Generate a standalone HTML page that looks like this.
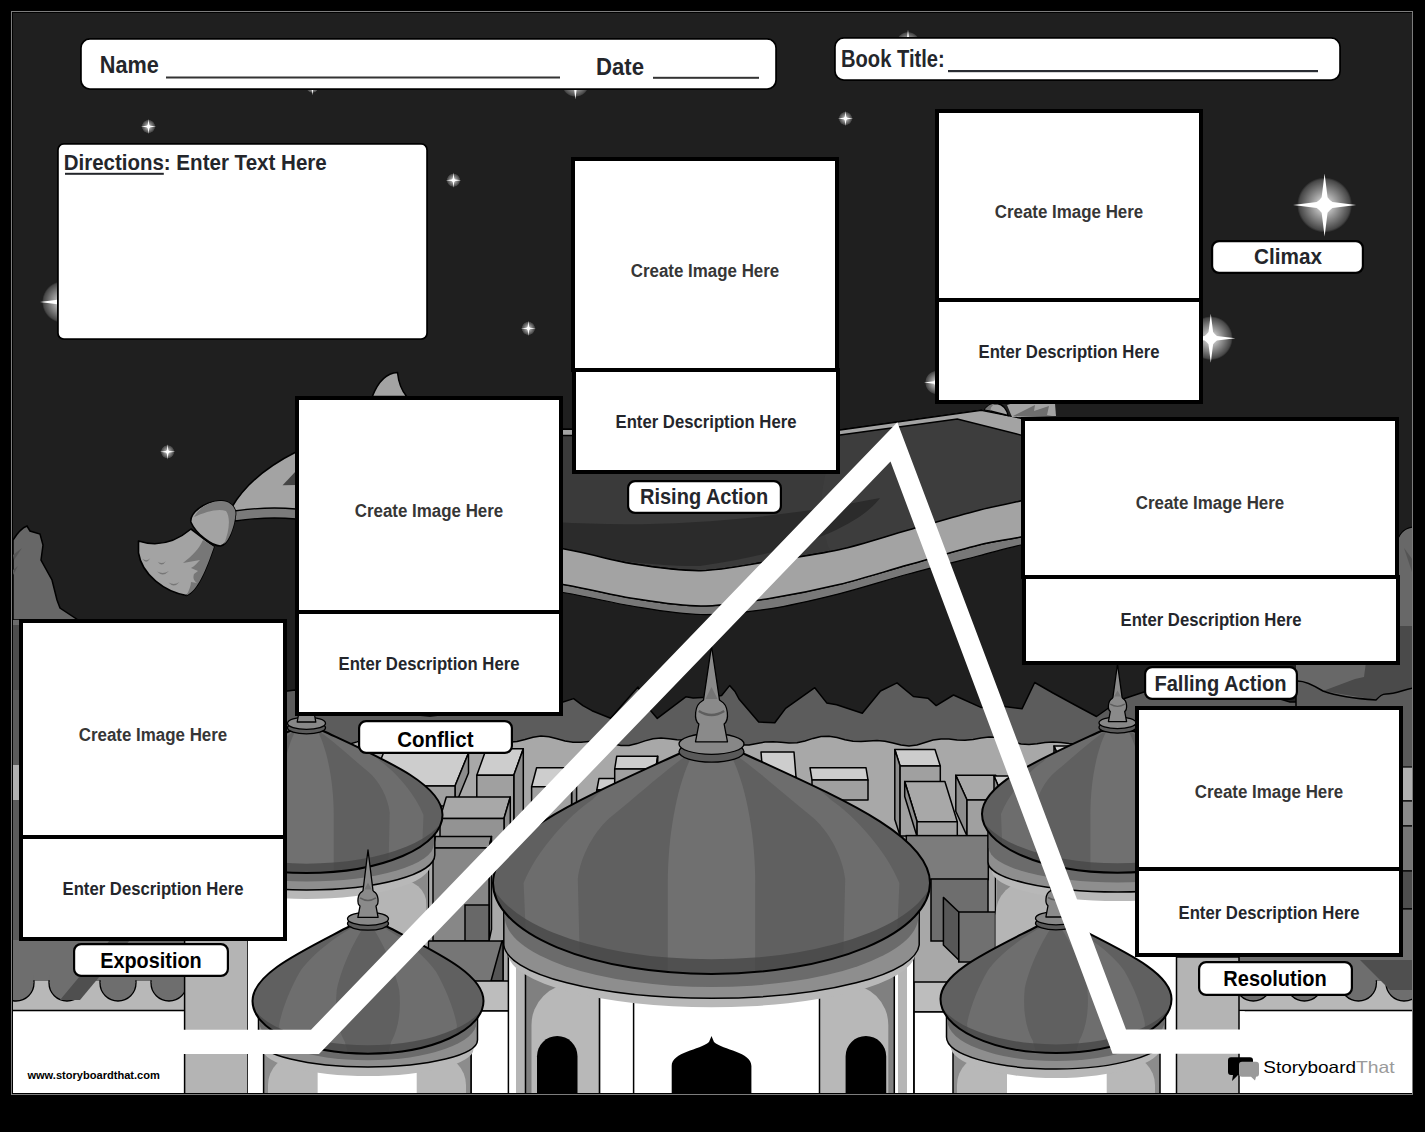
<!DOCTYPE html>
<html><head><meta charset="utf-8"><title>Plot Diagram</title>
<style>
html,body{margin:0;padding:0;background:#000;}
body{width:1425px;height:1132px;overflow:hidden;position:relative;font-family:"Liberation Sans", sans-serif;}
svg{position:absolute;left:0;top:0;display:block;}
</style></head><body>
<svg width="1425" height="1132" viewBox="0 0 1425 1132">
<defs>
<radialGradient id="glow"><stop offset="0" stop-color="#fff" stop-opacity="0.95"/><stop offset="0.45" stop-color="#fff" stop-opacity="0.55"/><stop offset="0.92" stop-color="#fff" stop-opacity="0.18"/><stop offset="1" stop-color="#fff" stop-opacity="0"/></radialGradient>
<clipPath id="frame"><rect x="13" y="13" width="1399" height="1080"/></clipPath>
</defs>
<rect x="0" y="0" width="1425" height="1132" fill="#000"/>
<rect x="11.5" y="11.5" width="1401" height="1083" fill="none" stroke="#7d7d7d" stroke-width="1"/>
<rect x="13" y="13" width="1399" height="1080" fill="#1f1f1f"/>
<g clip-path="url(#frame)">
<circle cx="148.5" cy="126.5" r="6.8" fill="url(#glow)" opacity="0.9"/><path d="M0,-32 L3,-8 Q5,-5 8,-3 L32,0 L8,3 Q5,5 3,8 L0,32 L-3,8 Q-5,5 -8,3 L-32,0 L-8,-3 Q-5,-5 -3,-8 Z" fill="#fff" transform="translate(148.5,126.5) scale(0.237)"/><circle cx="453.5" cy="180.2" r="6.8" fill="url(#glow)" opacity="0.9"/><path d="M0,-32 L3,-8 Q5,-5 8,-3 L32,0 L8,3 Q5,5 3,8 L0,32 L-3,8 Q-5,5 -8,3 L-32,0 L-8,-3 Q-5,-5 -3,-8 Z" fill="#fff" transform="translate(453.5,180.2) scale(0.237)"/><circle cx="528.4" cy="328.4" r="6.8" fill="url(#glow)" opacity="0.9"/><path d="M0,-32 L3,-8 Q5,-5 8,-3 L32,0 L8,3 Q5,5 3,8 L0,32 L-3,8 Q-5,5 -8,3 L-32,0 L-8,-3 Q-5,-5 -3,-8 Z" fill="#fff" transform="translate(528.4,328.4) scale(0.237)"/><circle cx="167.6" cy="451.8" r="6.8" fill="url(#glow)" opacity="0.9"/><path d="M0,-32 L3,-8 Q5,-5 8,-3 L32,0 L8,3 Q5,5 3,8 L0,32 L-3,8 Q-5,5 -8,3 L-32,0 L-8,-3 Q-5,-5 -3,-8 Z" fill="#fff" transform="translate(167.6,451.8) scale(0.237)"/><circle cx="845.5" cy="118.5" r="6.8" fill="url(#glow)" opacity="0.9"/><path d="M0,-32 L3,-8 Q5,-5 8,-3 L32,0 L8,3 Q5,5 3,8 L0,32 L-3,8 Q-5,5 -8,3 L-32,0 L-8,-3 Q-5,-5 -3,-8 Z" fill="#fff" transform="translate(845.5,118.5) scale(0.237)"/><circle cx="312.4" cy="86.5" r="6.5" fill="url(#glow)" opacity="1.0"/><path d="M0,-32 L3,-8 Q5,-5 8,-3 L32,0 L8,3 Q5,5 3,8 L0,32 L-3,8 Q-5,5 -8,3 L-32,0 L-8,-3 Q-5,-5 -3,-8 Z" fill="#fff" transform="translate(312.4,86.5) scale(0.272)"/><circle cx="1324.6" cy="205" r="27.6" fill="url(#glow)" opacity="1.0"/><path d="M0,-32 L3,-8 Q5,-5 8,-3 L32,0 L8,3 Q5,5 3,8 L0,32 L-3,8 Q-5,5 -8,3 L-32,0 L-8,-3 Q-5,-5 -3,-8 Z" fill="#fff" transform="translate(1324.6,205) scale(0.984)"/><circle cx="1210.8" cy="338.2" r="22" fill="url(#glow)" opacity="1.0"/><path d="M0,-32 L3,-8 Q5,-5 8,-3 L32,0 L8,3 Q5,5 3,8 L0,32 L-3,8 Q-5,5 -8,3 L-32,0 L-8,-3 Q-5,-5 -3,-8 Z" fill="#fff" transform="translate(1210.8,338.2) scale(0.766)"/><circle cx="63" cy="302" r="21" fill="url(#glow)" opacity="1.0"/><path d="M0,-32 L3,-8 Q5,-5 8,-3 L32,0 L8,3 Q5,5 3,8 L0,32 L-3,8 Q-5,5 -8,3 L-32,0 L-8,-3 Q-5,-5 -3,-8 Z" fill="#fff" transform="translate(63,302) scale(0.719)"/><circle cx="575.4" cy="83" r="14" fill="url(#glow)" opacity="1.0"/><path d="M0,-32 L3,-8 Q5,-5 8,-3 L32,0 L8,3 Q5,5 3,8 L0,32 L-3,8 Q-5,5 -8,3 L-32,0 L-8,-3 Q-5,-5 -3,-8 Z" fill="#fff" transform="translate(575.4,83) scale(0.512)"/><circle cx="908" cy="44" r="12.2" fill="url(#glow)" opacity="1.0"/><path d="M0,-32 L3,-8 Q5,-5 8,-3 L32,0 L8,3 Q5,5 3,8 L0,32 L-3,8 Q-5,5 -8,3 L-32,0 L-8,-3 Q-5,-5 -3,-8 Z" fill="#fff" transform="translate(908,44) scale(0.444)"/><circle cx="937" cy="382.5" r="12" fill="url(#glow)" opacity="1.0"/><path d="M0,-32 L3,-8 Q5,-5 8,-3 L32,0 L8,3 Q5,5 3,8 L0,32 L-3,8 Q-5,5 -8,3 L-32,0 L-8,-3 Q-5,-5 -3,-8 Z" fill="#fff" transform="translate(937,382.5) scale(0.406)"/><path d="M13,540 C18,532 22,528 27,526 L30,531 L40,534 L43,545 L41,560 L52,580 L57,600 L60,608 L78,620 L13,620 Z" fill="#676767" stroke="#000" stroke-width="1.5"/><path d="M13,555 L22,548 L14,560 Z" fill="#555"/><path d="M13,570 L18,566 L13,575 Z" fill="#555"/><path d="M380,470 L563,431 C650,431 760,432 840,430 L981.3,410.3 L1075,437 L1075,489 L1075.0,489.0 C1066.0,491.0 1036.9,497.4 1020.7,501.0 C1004.5,504.6 996.7,505.6 978.0,510.4 C959.3,515.2 931.6,523.4 908.4,530.0 C885.2,536.6 862.1,544.6 839.0,549.8 C815.9,555.0 792.5,557.9 769.5,561.4 C746.5,564.9 723.7,570.3 700.8,570.7 C677.9,571.1 654.9,567.4 631.9,563.8 C608.9,560.1 596.6,554.8 563.0,548.8 C529.4,542.8 473.8,535.3 430.0,528.0 C386.2,520.7 321.7,508.8 300.0,505.0 Z" fill="#3a3a3a" stroke="#000" stroke-width="1.5"/><path d="M839,434 L957,419 L1021,436 L1021,500 C950,520 880,545 830,551 C810,500 830,460 839,434 Z" fill="#3d3d3d"/><path d="M380,468 L563,429 C650,429 760,431 840,430 L981.3,410.3 L1021,418.3 L1030,421 L1030,440 L1021,435 L957.3,419 L840,435 C760,436 650,435 563,435.5 L380,474 Z" fill="#a3a3a3" stroke="#000" stroke-width="1.3"/><path d="M555,522 C650,528 760,522 880,498 C860,525 800,552 700,566 C640,566 600,558 555,548 Z" fill="#2b2b2b"/><path d="M300.0,540.0 C321.7,543.8 386.2,555.6 430.0,563.0 C473.8,570.4 529.4,578.6 563.0,584.5 C596.6,590.4 608.9,594.6 631.9,598.2 C654.9,601.8 677.9,606.0 700.8,606.0 C723.7,606.0 746.5,602.0 769.5,598.4 C792.5,594.8 815.9,590.1 839.0,584.5 C862.1,578.9 885.2,571.3 908.4,564.8 C931.6,558.2 959.3,549.8 978.0,545.2 C996.7,540.6 1004.5,540.4 1020.7,537.0 C1036.9,533.6 1066.0,527.0 1075.0,525.0 L1075.0,533.0 C1066.0,535.0 1036.9,541.2 1020.7,545.0 C1004.5,548.8 996.7,551.2 978.0,556.0 C959.3,560.8 931.6,567.7 908.4,574.0 C885.2,580.3 862.1,588.0 839.0,593.8 C815.9,599.6 792.5,605.3 769.5,608.8 C746.5,612.2 723.7,615.0 700.8,614.5 C677.9,614.0 654.9,609.7 631.9,606.0 C608.9,602.3 596.6,598.3 563.0,592.5 C529.4,586.7 473.8,578.4 430.0,571.0 C386.2,563.6 321.7,551.8 300.0,548.0 Z" fill="#787878" stroke="#000" stroke-width="1.2"/><path d="M300.0,505.0 C321.7,508.8 386.2,520.7 430.0,528.0 C473.8,535.3 529.4,542.8 563.0,548.8 C596.6,554.8 608.9,560.1 631.9,563.8 C654.9,567.4 677.9,571.1 700.8,570.7 C723.7,570.3 746.5,564.9 769.5,561.4 C792.5,557.9 815.9,555.0 839.0,549.8 C862.1,544.6 885.2,536.6 908.4,530.0 C931.6,523.4 959.3,515.2 978.0,510.4 C996.7,505.6 1004.5,504.6 1020.7,501.0 C1036.9,497.4 1066.0,491.0 1075.0,489.0 L1075.0,525.0 C1066.0,527.0 1036.9,533.6 1020.7,537.0 C1004.5,540.4 996.7,540.6 978.0,545.2 C959.3,549.8 931.6,558.2 908.4,564.8 C885.2,571.3 862.1,578.9 839.0,584.5 C815.9,590.1 792.5,594.8 769.5,598.4 C746.5,602.0 723.7,606.0 700.8,606.0 C677.9,606.0 654.9,601.8 631.9,598.2 C608.9,594.6 596.6,590.4 563.0,584.5 C529.4,578.6 473.8,570.4 430.0,563.0 C386.2,555.6 321.7,543.8 300.0,540.0 Z" fill="#a3a3a3" stroke="#000" stroke-width="1.5"/><path d="M984.7,409.5 C988,405 993,403.5 997,403.5 C1003,404 1007,410 1008,415.5 Z" fill="#a3a3a3" stroke="#000" stroke-width="1.3"/><path d="M984.7,409.5 C988,405 993,403.5 995,403.5 C992,406 990,408 991,410.5 Z" fill="#777"/><path d="M1007,405 L1012,403.5 L1055,403.5 L1056,416 L1012,417 Z" fill="#a3a3a3"/><path d="M1013,416 L1035,405 L1034,411 L1049,406 L1047,415 L1052,416 Z" fill="#6e6e6e"/><path d="M372.3,396.5 C378,382 386,373 397.5,372.5 C398.5,382 401,390 406.7,396.5 Z" fill="#a3a3a3" stroke="#000" stroke-width="1.5"/><path d="M232,507 C245,485 268,466 296,452 L296,510 C275,509 250,510 236,512 Z" fill="#a3a3a3" stroke="#000" stroke-width="1.5"/><path d="M282.6,485.2 L296,471 L296,485 Z" fill="#444"/><path d="M234,511 C255,508 275,507 296,509 L296,519 C275,517 255,518 235,521 Z" fill="#7a7a7a" stroke="#000" stroke-width="1.3"/><path d="M138.5,541 C160,548 178,540 191,529 L214,546.7 C206,570 198,590 186.5,595.5 C165,592 142,575 138.5,553 Z" fill="#a3a3a3" stroke="#000" stroke-width="1.6" stroke-linejoin="round"/><path d="M203,540 L214,546.7 C206,570 198,590 186.5,595.5 C189,590 191,586 191,582 L197,583 C193,580 193,577 194,574 L198,571 L191,568 C195,566 198,562 200,560 L183,563 C192,556 199,549 203,540 Z" fill="#777"/><path d="M142.3,558.8 Q146.3,564.8 150.3,558.3 Q146.3,561.8 142.3,558.8 Z" fill="#777"/><path d="M157.8,561.7 Q161.8,567.7 165.8,561.2 Q161.8,564.7 157.8,561.7 Z" fill="#777"/><path d="M157.0,571.6 Q163.0,577.6 169.0,571.1 Q163.0,574.6 157.0,571.6 Z" fill="#777"/><path d="M168.5,582.5 Q174.0,588.5 179.5,582.0 Q174.0,585.5 168.5,582.5 Z" fill="#777"/><path d="M190.8,522 C190,512 205,502 218,501 C230,500 237,508 235.3,516 C234,528 228,545 220.4,546 C212,546 196,534 190.8,522 Z" fill="#a3a3a3" stroke="#000" stroke-width="1.6"/><path d="M194,517 C200,506 212,501 220,501 C230,500 237,508 235.3,516 C234,528 229,540 224,544 C229,532 231,518 226,511 C218,508 205,512 194,517 Z" fill="#7a7a7a"/><path d="M13,760 L13,705 L60,700 L100,712 L150,695 L200,708 L250,700 L280,692 L295,690 L330,705 L380,712 L430,716 L470,712 L520,706 L560,703 L573.6,698.6 L582.9,705.6 L592,710.7 L610.6,718.3 L638,687 L650.5,710.4 L657.3,718.4 L685.8,696.8 L693.2,698 L712,697 L721.6,695.5 L729.6,685.6 L735.2,691.8 L739,699 L758.7,722.1 L774.8,722.7 L785.6,708.4 L814.8,687.7 L826.7,702.9 L836.7,704.7 L862.3,713.3 L880.5,691 L897,682.8 L913.4,696.5 L928,698.3 L936.2,705.6 L953.5,695 L980.9,707.4 L1000,706 L1022,708.8 L1034.7,682.5 L1053,693 L1075,705 L1096.5,716.5 L1120,700 L1150,690 L1200,697 L1250,690 L1290,702 L1412,702 L1412,760 Z" fill="#5c5c5c" stroke="#000" stroke-width="1.5" stroke-linejoin="round"/><path d="M13,1000 L13.0,743.9 L21.0,743.0 L29.0,742.1 L37.0,742.2 L45.0,743.2 L53.0,744.4 L61.0,744.4 L69.0,742.8 L77.0,740.1 L85.0,737.7 L93.0,736.8 L101.0,737.5 L109.0,739.0 L117.0,740.2 L125.0,740.2 L133.0,739.4 L141.0,738.9 L149.0,739.7 L157.0,741.8 L165.0,744.3 L173.0,745.8 L181.0,745.5 L189.0,743.8 L197.0,741.7 L205.0,740.5 L213.0,740.6 L221.0,741.3 L229.0,741.4 L237.0,740.3 L245.0,738.3 L253.0,736.5 L261.0,736.2 L269.0,737.7 L277.0,740.2 L285.0,742.4 L293.0,743.2 L301.0,742.7 L309.0,741.9 L317.0,741.8 L325.0,742.9 L333.0,744.4 L341.0,745.2 L349.0,744.3 L357.0,741.9 L365.0,739.2 L373.0,737.5 L381.0,737.5 L389.0,738.7 L397.0,739.8 L405.0,740.0 L413.0,739.1 L421.0,738.2 L429.0,738.4 L437.0,740.1 L445.0,742.8 L453.0,745.0 L461.0,745.6 L469.0,744.6 L477.0,742.7 L485.0,741.4 L493.0,741.2 L501.0,741.9 L509.0,742.3 L517.0,741.5 L525.0,739.5 L533.0,737.2 L541.0,736.0 L549.0,736.7 L557.0,738.7 L565.0,741.0 L573.0,742.3 L581.0,742.2 L589.0,741.5 L597.0,741.2 L605.0,742.2 L613.0,744.0 L621.0,745.4 L629.0,745.4 L637.0,743.6 L645.0,740.9 L653.0,738.7 L661.0,738.0 L669.0,738.7 L677.0,739.7 L685.0,740.0 L693.0,739.1 L701.0,737.9 L709.0,737.4 L717.0,738.6 L725.0,741.1 L733.0,743.7 L741.0,745.1 L749.0,744.9 L757.0,743.4 L765.0,742.0 L773.0,741.7 L781.0,742.3 L789.0,743.0 L797.0,742.7 L805.0,740.9 L813.0,738.4 L821.0,736.5 L829.0,736.2 L837.0,737.6 L845.0,739.7 L853.0,741.3 L861.0,741.5 L869.0,740.9 L877.0,740.5 L885.0,741.2 L893.0,743.1 L901.0,745.1 L909.0,745.9 L917.0,744.9 L925.0,742.5 L933.0,740.1 L941.0,738.9 L949.0,739.1 L957.0,739.9 L965.0,740.3 L973.0,739.5 L981.0,738.0 L989.0,736.9 L997.0,737.3 L1005.0,739.3 L1013.0,742.1 L1021.0,744.1 L1029.0,744.6 L1037.0,743.7 L1045.0,742.4 L1053.0,742.0 L1061.0,742.6 L1069.0,743.6 L1077.0,743.8 L1085.0,742.5 L1093.0,740.0 L1101.0,737.5 L1109.0,736.4 L1117.0,737.0 L1125.0,738.7 L1133.0,740.3 L1141.0,740.9 L1149.0,740.4 L1157.0,739.8 L1165.0,740.1 L1173.0,741.9 L1181.0,744.2 L1189.0,745.8 L1197.0,745.7 L1205.0,743.9 L1213.0,741.6 L1221.0,739.9 L1229.0,739.7 L1237.0,740.3 L1245.0,740.8 L1253.0,740.2 L1261.0,738.5 L1269.0,736.9 L1277.0,736.4 L1285.0,737.8 L1293.0,740.3 L1301.0,742.8 L1309.0,743.9 L1317.0,743.6 L1325.0,742.5 L1333.0,742.0 L1341.0,742.5 L1349.0,743.8 L1357.0,744.6 L1365.0,743.9 L1373.0,741.7 L1381.0,739.0 L1389.0,737.1 L1397.0,736.9 L1405.0,738.1 L1412,741 L1412,1000 Z" fill="#a8a8a8" stroke="#000" stroke-width="1.5"/><path d="M1396,545 C1398,535 1404,528 1413,527 L1413,700 L1396,700 Z" fill="#686868" stroke="#000" stroke-width="1.3"/><rect x="1396" y="626" width="17" height="70" fill="#4a4a4a"/><path d="M1404,548 L1413,560 L1413,575 Z" fill="#555"/><rect x="1296" y="662" width="117" height="44" fill="#686868"/><path d="M1323,691 L1355,679 L1364,677 L1366,662 L1413,662 L1413,690 L1384,694 L1376,700 Z" fill="#4a4a4a"/><path d="M1296,681 C1305,680 1315,686 1323,691 C1340,697 1360,699 1376,700 C1380,696 1382,694 1386,694 C1395,694 1403,690 1413,688 L1413,710 L1296,710 Z" fill="#5c5c5c" stroke="#000" stroke-width="1.5"/><polygon points="370.0,786.0 455.0,786.0 468.5,753.0 383.5,753.0" fill="#cdcdcd" stroke="#000" stroke-width="1.5" stroke-linejoin="round" /><polygon points="455.0,786.0 468.5,753.0 468.5,773.0 455.0,806.0" fill="#8c8c8c" stroke="#000" stroke-width="1.5" stroke-linejoin="round" /><polygon points="370.0,786.0 455.0,786.0 455.0,806.0 370.0,806.0" fill="#a0a0a0" stroke="#000" stroke-width="1.5" stroke-linejoin="round" /><polygon points="476.8,775.3 513.8,775.3 523.3,748.8 486.3,748.8" fill="#cdcdcd" stroke="#000" stroke-width="1.5" stroke-linejoin="round" /><polygon points="513.8,775.3 523.3,748.8 523.3,818.8 513.8,845.3" fill="#8c8c8c" stroke="#000" stroke-width="1.5" stroke-linejoin="round" /><polygon points="476.8,775.3 513.8,775.3 513.8,845.3 476.8,845.3" fill="#a0a0a0" stroke="#000" stroke-width="1.5" stroke-linejoin="round" /><polygon points="531.6,786.8 571.6,786.8 576.6,767.8 536.6,767.8" fill="#cdcdcd" stroke="#000" stroke-width="1.5" stroke-linejoin="round" /><polygon points="571.6,786.8 576.6,767.8 576.6,827.8 571.6,846.8" fill="#8c8c8c" stroke="#000" stroke-width="1.5" stroke-linejoin="round" /><polygon points="531.6,786.8 571.6,786.8 571.6,846.8 531.6,846.8" fill="#a0a0a0" stroke="#000" stroke-width="1.5" stroke-linejoin="round" /><polygon points="596.8,790.0 626.8,790.0 629.0,778.4 599.0,778.4" fill="#cdcdcd" stroke="#000" stroke-width="1.5" stroke-linejoin="round" /><polygon points="626.8,790.0 629.0,778.4 629.0,798.4 626.8,810.0" fill="#8c8c8c" stroke="#000" stroke-width="1.5" stroke-linejoin="round" /><polygon points="596.8,790.0 626.8,790.0 626.8,810.0 596.8,810.0" fill="#a0a0a0" stroke="#000" stroke-width="1.5" stroke-linejoin="round" /><polygon points="614.7,769.0 655.7,769.0 657.7,756.3 616.7,756.3" fill="#cdcdcd" stroke="#000" stroke-width="1.5" stroke-linejoin="round" /><polygon points="655.7,769.0 657.7,756.3 657.7,786.3 655.7,799.0" fill="#8c8c8c" stroke="#000" stroke-width="1.5" stroke-linejoin="round" /><polygon points="614.7,769.0 655.7,769.0 655.7,799.0 614.7,799.0" fill="#a0a0a0" stroke="#000" stroke-width="1.5" stroke-linejoin="round" /><polygon points="440.0,818.4 504.0,818.4 510.3,797.0 446.3,797.0" fill="#a8a8a8" stroke="#000" stroke-width="1.5" stroke-linejoin="round" /><polygon points="504.0,818.4 510.3,797.0 510.3,842.0 504.0,863.4" fill="#8c8c8c" stroke="#000" stroke-width="1.5" stroke-linejoin="round" /><polygon points="440.0,818.4 504.0,818.4 504.0,863.4 440.0,863.4" fill="#939393" stroke="#000" stroke-width="1.5" stroke-linejoin="round" /><polygon points="433.0,848.0 489.0,848.0 491.5,836.4 435.5,836.4" fill="#8c8c8c" stroke="#000" stroke-width="1.5" stroke-linejoin="round" /><polygon points="489.0,848.0 491.5,836.4 491.5,929.4 489.0,941.0" fill="#8c8c8c" stroke="#000" stroke-width="1.5" stroke-linejoin="round" /><polygon points="433.0,848.0 489.0,848.0 489.0,941.0 433.0,941.0" fill="#878787" stroke="#000" stroke-width="1.5" stroke-linejoin="round" /><rect x="465" y="905" width="24" height="36" fill="#686868" stroke="#000" stroke-width="1.5"/><rect x="428" y="941" width="75" height="45" fill="#767676" stroke="#000" stroke-width="1.5"/><polygon points="491.0,981.0 502.0,941.0 503.0,941.0 503.0,981.0" fill="#555" stroke="#000" stroke-width="1.5" stroke-linejoin="round" /><polygon points="763.0,777.0 796.0,777.0 794.0,752.0 761.0,752.0" fill="#cdcdcd" stroke="#000" stroke-width="1.5" stroke-linejoin="round" /><polygon points="763.0,777.0 796.0,777.0 796.0,797.0 763.0,797.0" fill="#a0a0a0" stroke="#000" stroke-width="1.5" stroke-linejoin="round" /><polygon points="812.0,780.0 868.0,780.0 866.0,767.7 810.0,767.7" fill="#cdcdcd" stroke="#000" stroke-width="1.5" stroke-linejoin="round" /><polygon points="812.0,780.0 868.0,780.0 868.0,800.0 812.0,800.0" fill="#a0a0a0" stroke="#000" stroke-width="1.5" stroke-linejoin="round" /><polygon points="900.1,766.0 940.3,766.0 935.0,749.6 894.8,749.6" fill="#cdcdcd" stroke="#000" stroke-width="1.5" stroke-linejoin="round" /><polygon points="900.1,766.0 894.8,749.6 894.8,819.6 900.1,836.0" fill="#8c8c8c" stroke="#000" stroke-width="1.5" stroke-linejoin="round" /><polygon points="900.1,766.0 940.3,766.0 940.3,836.0 900.1,836.0" fill="#a0a0a0" stroke="#000" stroke-width="1.5" stroke-linejoin="round" /><polygon points="967.0,800.0 1007.0,800.0 995.8,775.3 955.8,775.3" fill="#a8a8a8" stroke="#000" stroke-width="1.5" stroke-linejoin="round" /><polygon points="967.0,800.0 955.8,775.3 955.8,811.3 967.0,836.0" fill="#8c8c8c" stroke="#000" stroke-width="1.5" stroke-linejoin="round" /><polygon points="967.0,800.0 1007.0,800.0 1007.0,836.0 967.0,836.0" fill="#a0a0a0" stroke="#000" stroke-width="1.5" stroke-linejoin="round" /><polygon points="917.1,821.7 957.3,821.7 944.9,781.5 904.7,781.5" fill="#a8a8a8" stroke="#000" stroke-width="1.5" stroke-linejoin="round" /><polygon points="917.1,821.7 904.7,781.5 904.7,796.5 917.1,836.7" fill="#8c8c8c" stroke="#000" stroke-width="1.5" stroke-linejoin="round" /><polygon points="917.1,821.7 957.3,821.7 957.3,836.7 917.1,836.7" fill="#a0a0a0" stroke="#000" stroke-width="1.5" stroke-linejoin="round" /><polygon points="1000.0,790.0 1060.0,790.0 1054.0,776.0 994.0,776.0" fill="#cdcdcd" stroke="#000" stroke-width="1.5" stroke-linejoin="round" /><polygon points="1000.0,790.0 994.0,776.0 994.0,826.0 1000.0,840.0" fill="#8c8c8c" stroke="#000" stroke-width="1.5" stroke-linejoin="round" /><polygon points="1000.0,790.0 1060.0,790.0 1060.0,840.0 1000.0,840.0" fill="#a0a0a0" stroke="#000" stroke-width="1.5" stroke-linejoin="round" /><polygon points="1060.0,760.0 1110.0,760.0 1104.0,746.0 1054.0,746.0" fill="#cdcdcd" stroke="#000" stroke-width="1.5" stroke-linejoin="round" /><polygon points="1060.0,760.0 1054.0,746.0 1054.0,786.0 1060.0,800.0" fill="#8c8c8c" stroke="#000" stroke-width="1.5" stroke-linejoin="round" /><polygon points="1060.0,760.0 1110.0,760.0 1110.0,800.0 1060.0,800.0" fill="#a0a0a0" stroke="#000" stroke-width="1.5" stroke-linejoin="round" /><rect x="906.3" y="835.6" width="82" height="44" fill="#7c7c7c" stroke="#000" stroke-width="1.5"/><rect x="931" y="879" width="57" height="62" fill="#6e6e6e" stroke="#000" stroke-width="1.5"/><polygon points="943.4,897.4 958.8,912.0 958.8,960.0 943.4,945.0" fill="#575757" stroke="#000" stroke-width="1.5" stroke-linejoin="round" /><rect x="958.8" y="912" width="40" height="50" fill="#707070" stroke="#000" stroke-width="1.5"/><rect x="1390" y="700" width="23" height="67" fill="#5a5a5a"/><rect x="1390" y="767" width="23" height="34" fill="#b0b0b0" stroke="#000" stroke-width="1.2"/><rect x="1390" y="801" width="23" height="25" fill="#8a8a8a" stroke="#000" stroke-width="1.2"/><rect x="1390" y="826" width="23" height="45" fill="#767676" stroke="#000" stroke-width="1.2"/><rect x="1390" y="871" width="23" height="38" fill="#4e4e4e" stroke="#000" stroke-width="1.2"/><rect x="1390" y="909" width="23" height="50" fill="#6e6e6e" stroke="#000" stroke-width="1.2"/><rect x="13" y="620" width="8" height="320" fill="#5a5a5a"/><rect x="13" y="620" width="8" height="8" fill="#6a6a6a"/><rect x="13" y="625" width="8" height="65" fill="#4c4c4c"/><rect x="13" y="765" width="8" height="35" fill="#b0b0b0"/><rect x="183" y="850" width="245.4" height="245" fill="#fff" stroke="#000" stroke-width="1.5"/><rect x="396" y="851" width="31.6" height="60" fill="#8a8a8a"/><path d="M360,1095 L360,879 L398,879 A28.5,25 0 0 1 426.5,904 L426.5,1095 Z" fill="#b5b5b5"/><rect x="426.5" y="870" width="1.5" height="225" fill="#8a8a8a"/><path d="M183,855 L428.4,855 L428.4,900 L183,900 Z" fill="#b8b8b8" opacity="0"/><path d="M182.2,855.0 A124.3,35.0 0 0 0 430.8,855.0 L430.8,864.0 A124.3,35.0 0 0 1 182.2,864.0 Z" fill="#b8b8b8"/><path d="M178.2,830.0 L178.2,855.0 A128.3,35.0 0 0 0 434.8,855.0 L434.8,830.0 Z" fill="#8e8e8e" stroke="#000" stroke-width="1.5"/><path d="M179.0,830.0 L179.0,843.8 A127.5,37.8 0 0 0 434.0,843.8 L434.0,830.0 Z" fill="#6b6b6b"/><clipPath id="dc1"><path d="M289.8,731.0 C227.8,759.9 170.5,784.3 170.5,815.0 A136.0,58.0 0 0 0 442.5,815.0 C442.5,784.3 385.2,759.9 323.2,731.0 Z"/></clipPath><path d="M289.8,731.0 C227.8,759.9 170.5,784.3 170.5,815.0 A136.0,58.0 0 0 0 442.5,815.0 C442.5,784.3 385.2,759.9 323.2,731.0 Z" fill="#606060"/><g clip-path="url(#dc1)"><path d="M290.2,731.0 C258.9,741.1 238.5,754.5 232.7,761.2 C218.1,771.3 197.7,794.0 189.5,815.0 L192.3,883.0 L224.9,883.0 L223.3,812.5 C224.9,798.2 233.1,781.4 245.3,771.3 C261.6,757.9 279.3,741.1 294.3,731.0 Z" fill="#6d6d6d"/><path d="M322.8,731.0 C354.1,741.1 374.5,754.5 380.3,761.2 C394.9,771.3 415.3,794.0 423.5,815.0 L420.7,883.0 L388.1,883.0 L389.7,812.5 C388.1,798.2 379.9,781.4 367.7,771.3 C351.4,757.9 333.7,741.1 318.7,731.0 Z" fill="#6d6d6d"/><path d="M295.6,731.0 C286.1,747.8 279.3,781.4 279.3,815.0 L279.3,883.0 L333.7,883.0 L333.7,815.0 C333.7,781.4 326.9,747.8 317.4,731.0 Z" fill="#707070"/><path d="M165.5,805.7 A141.0,58.0 0 0 0 447.5,805.7 L447.5,893.0 L165.5,893.0 Z" fill="#454545" opacity="0.75"/></g><path d="M289.8,731.0 C227.8,759.9 170.5,784.3 170.5,815.0 A136.0,58.0 0 0 0 442.5,815.0 C442.5,784.3 385.2,759.9 323.2,731.0 Z" fill="none" stroke="#000" stroke-width="2"/><ellipse cx="306.5" cy="727.7" rx="19" ry="6.1" fill="#5a5a5a" stroke="#000" stroke-width="1.3"/><ellipse cx="306.5" cy="723.2" rx="19" ry="6.1" fill="#878787" stroke="#000" stroke-width="1.3"/><path d="M297.2,722.0 L299.1,711.5 C296.1,709.2 296.6,700.4 301.0,698.1 L301.8,697.1 L306.5,690.0 L311.2,697.1 L312.0,698.1 C316.4,700.4 316.9,709.2 313.9,711.5 L315.8,722.0 Z" fill="#8a8a8a" stroke="#000" stroke-width="1.3" stroke-linejoin="round"/><path d="M299.0,703.9 Q306.5,708.6 314.0,703.9" fill="none" stroke="#5e5e5e" stroke-width="1.5"/><path d="M303.0,696.1 L306.5,689.9 L310.0,696.1 Z" fill="#747474"/><rect x="995.5" y="850" width="250" height="245" fill="#fff" stroke="#000" stroke-width="1.5"/><rect x="996.3" y="850" width="73.7" height="245" fill="#8a8a8a"/><path d="M995.5,1095 L995.5,915 A35,35 0 0 1 1030.5,880 L1070,880 L1070,1095 Z" fill="#b5b5b5"/><path d="M992.0,862.0 A125.5,30.0 0 0 0 1243.0,862.0 L1243.0,871.0 A125.5,30.0 0 0 1 992.0,871.0 Z" fill="#b8b8b8"/><path d="M988.0,830.0 L988.0,862.0 A129.5,30.0 0 0 0 1247.0,862.0 L1247.0,830.0 Z" fill="#8e8e8e" stroke="#000" stroke-width="1.5"/><path d="M988.8,830.0 L988.8,847.6 A128.7,34.8 0 0 0 1246.2,847.6 L1246.2,830.0 Z" fill="#6b6b6b"/><clipPath id="dc4"><path d="M1101.2,731.0 C1039.0,759.6 982.0,783.6 982.0,814.0 A135.5,58.7 0 0 0 1253.0,814.0 C1253.0,783.6 1196.0,759.6 1133.8,731.0 Z"/></clipPath><path d="M1101.2,731.0 C1039.0,759.6 982.0,783.6 982.0,814.0 A135.5,58.7 0 0 0 1253.0,814.0 C1253.0,783.6 1196.0,759.6 1133.8,731.0 Z" fill="#606060"/><g clip-path="url(#dc4)"><path d="M1101.2,731.0 C1070.1,741.0 1049.8,754.2 1043.9,760.9 C1029.4,770.8 1009.1,793.2 1001.0,814.0 L1003.7,882.7 L1036.2,882.7 L1034.6,811.5 C1036.2,797.4 1044.3,780.8 1056.5,770.8 C1072.8,757.6 1090.4,741.0 1105.3,731.0 Z" fill="#6d6d6d"/><path d="M1133.8,731.0 C1164.9,741.0 1185.2,754.2 1191.1,760.9 C1205.6,770.8 1225.9,793.2 1234.0,814.0 L1231.3,882.7 L1198.8,882.7 L1200.4,811.5 C1198.8,797.4 1190.7,780.8 1178.5,770.8 C1162.2,757.6 1144.6,741.0 1129.7,731.0 Z" fill="#6d6d6d"/><path d="M1106.7,731.0 C1097.2,747.6 1090.4,780.8 1090.4,814.0 L1090.4,882.7 L1144.6,882.7 L1144.6,814.0 C1144.6,780.8 1137.8,747.6 1128.3,731.0 Z" fill="#707070"/><path d="M977.0,804.6 A140.5,58.7 0 0 0 1258.0,804.6 L1258.0,892.7 L977.0,892.7 Z" fill="#454545" opacity="0.75"/></g><path d="M1101.2,731.0 C1039.0,759.6 982.0,783.6 982.0,814.0 A135.5,58.7 0 0 0 1253.0,814.0 C1253.0,783.6 1196.0,759.6 1133.8,731.0 Z" fill="none" stroke="#000" stroke-width="2"/><ellipse cx="1117.5" cy="727.3" rx="18.5" ry="5.9" fill="#5a5a5a" stroke="#000" stroke-width="1.3"/><ellipse cx="1117.5" cy="722.8" rx="18.5" ry="5.9" fill="#878787" stroke="#000" stroke-width="1.3"/><path d="M1108.4,721.6 L1110.3,711.5 C1107.3,709.2 1107.8,700.7 1112.2,698.4 L1112.9,697.4 L1117.5,664.0 L1122.1,697.4 L1122.8,698.4 C1127.2,700.7 1127.7,709.2 1124.7,711.5 L1126.6,721.6 Z" fill="#8a8a8a" stroke="#000" stroke-width="1.3" stroke-linejoin="round"/><path d="M1110.2,704.1 Q1117.5,708.6 1124.8,704.1" fill="none" stroke="#5e5e5e" stroke-width="1.4"/><path d="M1114.1,696.4 L1117.5,690.4 L1120.9,696.4 Z" fill="#747474"/><rect x="471" y="981" width="40" height="30" fill="#bdbdbd" stroke="#000" stroke-width="1.5"/><rect x="471" y="1011" width="40" height="84" fill="#fff" stroke="#000" stroke-width="1.5"/><rect x="914" y="982" width="42" height="30" fill="#bdbdbd" stroke="#000" stroke-width="1.5"/><rect x="914" y="1012" width="42" height="83" fill="#fff" stroke="#000" stroke-width="1.5"/><rect x="508.4" y="900" width="405.4" height="195" fill="#fff" stroke="#000" stroke-width="1.5"/><rect x="516" y="900" width="9.5" height="195" fill="#b5b5b5"/><rect x="525.5" y="935" width="74.10000000000002" height="160" fill="#808080" stroke="#000" stroke-width="1.5"/><path d="M531.5,1095 L531.5,1024.8 A40.8,40.8 0 0 1 572.3,984.0 L598.6,984.0 L598.6,1095 Z" fill="#b8b8b8"/><path d="M537,1095 L537,1056.25 A20.25,20.25 0 0 1 577.5,1056.25 L577.5,1095 Z" fill="#000"/><rect x="599.6" y="900" width="34" height="195" fill="#fff" stroke="#000" stroke-width="1.5"/><rect x="819.5" y="935" width="74.79999999999995" height="160" fill="#808080" stroke="#000" stroke-width="1.5"/><path d="M888.3,1095 L888.3,1025.1 A41.1,41.1 0 0 0 847.2,984.0 L820.5,984.0 L820.5,1095 Z" fill="#b8b8b8"/><path d="M845.6,1095 L845.6,1056.3 A20.3,20.3 0 0 1 886.2,1056.3 L886.2,1095 Z" fill="#000"/><rect x="898" y="900" width="9" height="195" fill="#b5b5b5"/><path d="M671.7,1095 L671.7,1066 C671.7,1052 700,1050 709,1042 L711.5,1036 L714,1042 C723,1050 751.4,1052 751.4,1066 L751.4,1095 Z" fill="#000"/><path d="M507.8,945.0 A203.8,55.0 0 0 0 915.2,945.0 L915.2,954.0 A203.8,55.0 0 0 1 507.8,954.0 Z" fill="#b8b8b8"/><path d="M503.8,880.0 L503.8,945.0 A207.8,55.0 0 0 0 919.2,945.0 L919.2,880.0 Z" fill="#8e8e8e" stroke="#000" stroke-width="1.5"/><path d="M504.6,880.0 L504.6,915.8 A206.9,71.2 0 0 0 918.5,915.8 L918.5,880.0 Z" fill="#6b6b6b"/><clipPath id="dc3"><path d="M682.9,752.0 C585.0,797.1 493.0,835.1 493.0,883.0 A218.5,91.0 0 0 0 930.0,883.0 C930.0,835.1 838.0,797.1 740.1,752.0 Z"/></clipPath><path d="M682.9,752.0 C585.0,797.1 493.0,835.1 493.0,883.0 A218.5,91.0 0 0 0 930.0,883.0 C930.0,835.1 838.0,797.1 740.1,752.0 Z" fill="#606060"/><g clip-path="url(#dc3)"><path d="M685.3,752.0 C635.0,767.7 602.2,788.7 592.9,799.2 C569.5,814.9 536.7,850.2 523.6,883.0 L528.0,984.0 L580.4,984.0 L577.8,879.1 C580.4,856.8 593.5,830.6 613.2,814.9 C639.4,793.9 667.8,767.7 691.8,752.0 Z" fill="#6d6d6d"/><path d="M737.7,752.0 C788.0,767.7 820.8,788.7 830.1,799.2 C853.5,814.9 886.3,850.2 899.4,883.0 L895.0,984.0 L842.6,984.0 L845.2,879.1 C842.6,856.8 829.5,830.6 809.8,814.9 C783.6,793.9 755.2,767.7 731.2,752.0 Z" fill="#6d6d6d"/><path d="M694.0,752.0 C678.7,778.2 667.8,830.6 667.8,883.0 L667.8,984.0 L755.2,984.0 L755.2,883.0 C755.2,830.6 744.3,778.2 729.0,752.0 Z" fill="#707070"/><path d="M488.0,868.4 A223.5,91.0 0 0 0 935.0,868.4 L935.0,994.0 L488.0,994.0 Z" fill="#454545" opacity="0.75"/></g><path d="M682.9,752.0 C585.0,797.1 493.0,835.1 493.0,883.0 A218.5,91.0 0 0 0 930.0,883.0 C930.0,835.1 838.0,797.1 740.1,752.0 Z" fill="none" stroke="#000" stroke-width="2"/><ellipse cx="711.5" cy="751.7" rx="32.5" ry="10.4" fill="#5a5a5a" stroke="#000" stroke-width="1.3"/><ellipse cx="711.5" cy="743.9" rx="32.5" ry="10.4" fill="#878787" stroke="#000" stroke-width="1.3"/><path d="M695.5,741.8 L698.9,724.0 C693.6,720.0 694.5,705.0 702.1,701.0 L703.5,700.0 L711.5,646.0 L719.5,700.0 L720.9,701.0 C728.5,705.0 729.4,720.0 724.1,724.0 L727.5,741.8 Z" fill="#8a8a8a" stroke="#000" stroke-width="1.3" stroke-linejoin="round"/><path d="M698.8,711.0 Q711.5,719.0 724.2,711.0" fill="none" stroke="#5e5e5e" stroke-width="2.5"/><path d="M705.5,699.0 L711.5,687.0 L717.5,699.0 Z" fill="#747474"/><rect x="13" y="940" width="171.6" height="71" fill="#6e6e6e"/><rect x="13" y="981" width="171.6" height="30" fill="#b8b8b8"/><path d="M-2,981 L-2,983 A18,18 0 0 0 34,983 L34,981 Z" fill="#6e6e6e" stroke="#000" stroke-width="1.3"/><rect x="-1.3" y="975" width="34.6" height="8" fill="#6e6e6e"/><path d="M49,981 L49,983 A18,18 0 0 0 85,983 L85,981 Z" fill="#6e6e6e" stroke="#000" stroke-width="1.3"/><rect x="49.7" y="975" width="34.6" height="8" fill="#6e6e6e"/><path d="M100,981 L100,983 A18,18 0 0 0 136,983 L136,981 Z" fill="#6e6e6e" stroke="#000" stroke-width="1.3"/><rect x="100.7" y="975" width="34.6" height="8" fill="#6e6e6e"/><path d="M151,981 L151,983 A18,18 0 0 0 187,983 L187,981 Z" fill="#6e6e6e" stroke="#000" stroke-width="1.3"/><rect x="151.7" y="975" width="34.6" height="8" fill="#6e6e6e"/><line x1="13" y1="1010.5" x2="184.6" y2="1010.5" stroke="#000" stroke-width="1.5"/><rect x="13" y="1011.3" width="171.6" height="84" fill="#fff"/><polygon points="60.0,1000.0 110.0,940.0 130.0,940.0 80.0,1000.0" fill="#4f4f4f" /><rect x="1239" y="957" width="173" height="54" fill="#6e6e6e"/><rect x="1239" y="981" width="173" height="30" fill="#b8b8b8"/><path d="M1235.3,981 L1235.3,983 A18,18 0 0 0 1271.3,983 L1271.3,981 Z" fill="#6e6e6e" stroke="#000" stroke-width="1.3"/><rect x="1236.0" y="975" width="34.6" height="8" fill="#6e6e6e"/><path d="M1286.4,981 L1286.4,983 A18,18 0 0 0 1322.4,983 L1322.4,981 Z" fill="#6e6e6e" stroke="#000" stroke-width="1.3"/><rect x="1287.1000000000001" y="975" width="34.6" height="8" fill="#6e6e6e"/><path d="M1340.4,981 L1340.4,983 A18,18 0 0 0 1376.4,983 L1376.4,981 Z" fill="#6e6e6e" stroke="#000" stroke-width="1.3"/><rect x="1341.1000000000001" y="975" width="34.6" height="8" fill="#6e6e6e"/><path d="M1386,981 L1386,983 A18,18 0 0 0 1422,983 L1422,981 Z" fill="#6e6e6e" stroke="#000" stroke-width="1.3"/><rect x="1386.7" y="975" width="34.6" height="8" fill="#6e6e6e"/><line x1="1239" y1="1010.5" x2="1412" y2="1010.5" stroke="#000" stroke-width="1.5"/><rect x="1239" y="1011.3" width="173" height="84" fill="#fff"/><polygon points="1360.0,960.0 1390.0,990.0 1412.0,990.0 1412.0,960.0" fill="#4f4f4f" /><rect x="184.6" y="900" width="63.4" height="195" fill="#b4b4b4" stroke="#000" stroke-width="1.5"/><rect x="248" y="900" width="15.6" height="195" fill="#fff"/><rect x="1160" y="957" width="16.5" height="138" fill="#fff"/><rect x="1176.5" y="957" width="62.5" height="138" fill="#b4b4b4" stroke="#000" stroke-width="1.5"/><rect x="263.6" y="1000" width="207.4" height="95" fill="#8c8c8c" stroke="#000" stroke-width="1.5"/><path d="M268,1095 L268,1085 A30,30 0 0 1 298,1055 L317.5,1055 L317.5,1095 Z" fill="#b8b8b8"/><path d="M466,1095 L466,1085 A30,30 0 0 0 436,1055 L416.8,1055 L416.8,1095 Z" fill="#b8b8b8"/><rect x="317.5" y="1055" width="99.3" height="40" fill="#fff"/><path d="M262.5,1040.0 A105.5,27.0 0 0 0 473.5,1040.0 L473.5,1049.0 A105.5,27.0 0 0 1 262.5,1049.0 Z" fill="#b8b8b8"/><path d="M258.5,1000.0 L258.5,1040.0 A109.5,27.0 0 0 0 477.5,1040.0 L477.5,1000.0 Z" fill="#8e8e8e" stroke="#000" stroke-width="1.5"/><path d="M259.3,1000.0 L259.3,1022.0 A108.7,38.3 0 0 0 476.7,1022.0 L476.7,1000.0 Z" fill="#6b6b6b"/><clipPath id="dc2"><path d="M350.0,926.0 C301.1,951.8 252.5,973.5 252.5,1001.0 A115.5,52.7 0 0 0 483.5,1001.0 C483.5,973.5 434.9,951.8 386.0,926.0 Z"/></clipPath><path d="M350.0,926.0 C301.1,951.8 252.5,973.5 252.5,1001.0 A115.5,52.7 0 0 0 483.5,1001.0 C483.5,973.5 434.9,951.8 386.0,926.0 Z" fill="#606060"/><g clip-path="url(#dc2)"><path d="M355.3,926.0 C327.6,941.0 307.9,959.8 299.9,971.8 C289.5,989.8 281.4,1011.5 279.1,1025.2 L281.4,1063.7 L350.7,1063.7 L344.9,1042.1 C338.0,1030.0 334.5,1011.5 336.8,989.8 C342.6,963.5 356.4,937.2 364.5,926.0 Z" fill="#6e6e6e"/><path d="M380.7,926.0 C408.4,941.0 428.1,959.8 436.1,971.8 C446.5,989.8 454.6,1011.5 456.9,1025.2 L454.6,1063.7 L385.3,1063.7 L391.1,1042.1 C398.0,1030.0 401.5,1011.5 399.2,989.8 C393.4,963.5 379.6,937.2 371.5,926.0 Z" fill="#6e6e6e"/><path d="M247.5,992.6 A120.5,52.7 0 0 0 488.5,992.6 L488.5,1073.7 L247.5,1073.7 Z" fill="#454545" opacity="0.75"/></g><path d="M350.0,926.0 C301.1,951.8 252.5,973.5 252.5,1001.0 A115.5,52.7 0 0 0 483.5,1001.0 C483.5,973.5 434.9,951.8 386.0,926.0 Z" fill="none" stroke="#000" stroke-width="2"/><ellipse cx="368" cy="923.6" rx="20.5" ry="6.6" fill="#5a5a5a" stroke="#000" stroke-width="1.3"/><ellipse cx="368" cy="918.7" rx="20.5" ry="6.6" fill="#878787" stroke="#000" stroke-width="1.3"/><path d="M357.9,917.4 L360.0,906.1 C356.7,903.6 357.3,894.1 362.1,891.6 L363.0,890.6 L368.0,850.0 L373.0,890.6 L373.9,891.6 C378.7,894.1 379.3,903.6 376.0,906.1 L378.1,917.4 Z" fill="#8a8a8a" stroke="#000" stroke-width="1.3" stroke-linejoin="round"/><path d="M360.0,897.9 Q368.0,903.0 376.0,897.9" fill="none" stroke="#5e5e5e" stroke-width="1.6"/><path d="M364.2,889.6 L368.0,882.8 L371.8,889.6 Z" fill="#747474"/><rect x="953" y="1000" width="207" height="95" fill="#8c8c8c" stroke="#000" stroke-width="1.5"/><path d="M957,1095 L957,1085 A30,30 0 0 1 987,1055 L1007,1055 L1007,1095 Z" fill="#b8b8b8"/><path d="M1155,1095 L1155,1085 A30,30 0 0 0 1125,1055 L1106.8,1055 L1106.8,1095 Z" fill="#b8b8b8"/><rect x="1007" y="1055" width="99.8" height="40" fill="#fff"/><path d="M950.5,1037.0 A105.5,32.0 0 0 0 1161.5,1037.0 L1161.5,1046.0 A105.5,32.0 0 0 1 950.5,1046.0 Z" fill="#b8b8b8"/><path d="M946.5,1000.0 L946.5,1037.0 A109.5,32.0 0 0 0 1165.5,1037.0 L1165.5,1000.0 Z" fill="#8e8e8e" stroke="#000" stroke-width="1.5"/><path d="M947.3,1000.0 L947.3,1020.4 A108.7,40.6 0 0 0 1164.7,1020.4 L1164.7,1000.0 Z" fill="#6b6b6b"/><clipPath id="dc5"><path d="M1038.0,926.0 C989.1,951.1 940.5,972.3 940.5,999.0 A115.5,54.0 0 0 0 1171.5,999.0 C1171.5,972.3 1122.9,951.1 1074.0,926.0 Z"/></clipPath><path d="M1038.0,926.0 C989.1,951.1 940.5,972.3 940.5,999.0 A115.5,54.0 0 0 0 1171.5,999.0 C1171.5,972.3 1122.9,951.1 1074.0,926.0 Z" fill="#606060"/><g clip-path="url(#dc5)"><path d="M1043.3,926.0 C1015.6,940.6 995.9,958.9 987.9,970.5 C977.5,988.0 969.4,1009.8 967.1,1023.8 L969.4,1063.0 L1038.7,1063.0 L1032.9,1041.1 C1026.0,1028.7 1022.5,1009.8 1024.8,988.0 C1030.6,962.5 1044.5,937.0 1052.5,926.0 Z" fill="#6e6e6e"/><path d="M1068.7,926.0 C1096.4,940.6 1116.1,958.9 1124.1,970.5 C1134.5,988.0 1142.6,1009.8 1144.9,1023.8 L1142.6,1063.0 L1073.3,1063.0 L1079.1,1041.1 C1086.0,1028.7 1089.5,1009.8 1087.2,988.0 C1081.4,962.5 1067.5,937.0 1059.5,926.0 Z" fill="#6e6e6e"/><path d="M935.5,990.4 A120.5,54.0 0 0 0 1176.5,990.4 L1176.5,1073.0 L935.5,1073.0 Z" fill="#454545" opacity="0.75"/></g><path d="M1038.0,926.0 C989.1,951.1 940.5,972.3 940.5,999.0 A115.5,54.0 0 0 0 1171.5,999.0 C1171.5,972.3 1122.9,951.1 1074.0,926.0 Z" fill="none" stroke="#000" stroke-width="2"/><ellipse cx="1056" cy="923.2" rx="20.5" ry="6.6" fill="#5a5a5a" stroke="#000" stroke-width="1.3"/><ellipse cx="1056" cy="918.3" rx="20.5" ry="6.6" fill="#878787" stroke="#000" stroke-width="1.3"/><path d="M1045.9,917.0 L1048.0,905.7 C1044.7,903.2 1045.3,893.7 1050.1,891.2 L1051.0,890.2 L1056.0,850.0 L1061.0,890.2 L1061.9,891.2 C1066.7,893.7 1067.3,903.2 1064.0,905.7 L1066.1,917.0 Z" fill="#8a8a8a" stroke="#000" stroke-width="1.3" stroke-linejoin="round"/><path d="M1048.0,897.5 Q1056.0,902.6 1064.0,897.5" fill="none" stroke="#5e5e5e" stroke-width="1.6"/><path d="M1052.2,889.2 L1056.0,882.4 L1059.8,889.2 Z" fill="#747474"/><path d="M0,1029.8 L311,1029.8 L897.3,422.2 L1126,1029.4 L1425,1029.4 L1425,1053.8 L1112.6,1053.8 L890.5,461.5 L319,1054 L0,1054 Z" fill="#fff"/></g><rect x="573.0" y="159.0" width="264" height="211" fill="#fff" stroke="#000" stroke-width="4"/><rect x="574.0" y="370.0" width="264" height="102" fill="#fff" stroke="#000" stroke-width="4"/><text x="705.0" y="276.5" font-family='"Liberation Sans", sans-serif' font-size="18.7" font-weight="bold" fill="#363636" textLength="148.5" lengthAdjust="spacingAndGlyphs" text-anchor="middle" >Create Image Here</text><text x="706.0" y="428.0" font-family='"Liberation Sans", sans-serif' font-size="18.7" font-weight="bold" fill="#24262b" textLength="181" lengthAdjust="spacingAndGlyphs" text-anchor="middle" >Enter Description Here</text><rect x="937.0" y="111.0" width="264" height="189" fill="#fff" stroke="#000" stroke-width="4"/><rect x="937.0" y="300.0" width="264" height="102" fill="#fff" stroke="#000" stroke-width="4"/><text x="1069.0" y="217.5" font-family='"Liberation Sans", sans-serif' font-size="18.7" font-weight="bold" fill="#363636" textLength="148.5" lengthAdjust="spacingAndGlyphs" text-anchor="middle" >Create Image Here</text><text x="1069.0" y="358.0" font-family='"Liberation Sans", sans-serif' font-size="18.7" font-weight="bold" fill="#24262b" textLength="181" lengthAdjust="spacingAndGlyphs" text-anchor="middle" >Enter Description Here</text><rect x="297.0" y="398.0" width="264" height="214" fill="#fff" stroke="#000" stroke-width="4"/><rect x="297.0" y="612.0" width="264" height="102" fill="#fff" stroke="#000" stroke-width="4"/><text x="429.0" y="517.0" font-family='"Liberation Sans", sans-serif' font-size="18.7" font-weight="bold" fill="#363636" textLength="148.5" lengthAdjust="spacingAndGlyphs" text-anchor="middle" >Create Image Here</text><text x="429.0" y="670.0" font-family='"Liberation Sans", sans-serif' font-size="18.7" font-weight="bold" fill="#24262b" textLength="181" lengthAdjust="spacingAndGlyphs" text-anchor="middle" >Enter Description Here</text><rect x="21.0" y="621.0" width="264" height="216" fill="#fff" stroke="#000" stroke-width="4"/><rect x="21.0" y="837.0" width="264" height="102" fill="#fff" stroke="#000" stroke-width="4"/><text x="153.0" y="741.0" font-family='"Liberation Sans", sans-serif' font-size="18.7" font-weight="bold" fill="#363636" textLength="148.5" lengthAdjust="spacingAndGlyphs" text-anchor="middle" >Create Image Here</text><text x="153.0" y="895.0" font-family='"Liberation Sans", sans-serif' font-size="18.7" font-weight="bold" fill="#24262b" textLength="181" lengthAdjust="spacingAndGlyphs" text-anchor="middle" >Enter Description Here</text><rect x="1023.0" y="419.0" width="374" height="158" fill="#fff" stroke="#000" stroke-width="4"/><rect x="1024.0" y="577.0" width="374" height="86" fill="#fff" stroke="#000" stroke-width="4"/><text x="1210.0" y="509.2" font-family='"Liberation Sans", sans-serif' font-size="18.7" font-weight="bold" fill="#363636" textLength="148.5" lengthAdjust="spacingAndGlyphs" text-anchor="middle" >Create Image Here</text><text x="1211.0" y="625.5" font-family='"Liberation Sans", sans-serif' font-size="18.7" font-weight="bold" fill="#24262b" textLength="181" lengthAdjust="spacingAndGlyphs" text-anchor="middle" >Enter Description Here</text><rect x="1137.0" y="708.0" width="264" height="161" fill="#fff" stroke="#000" stroke-width="4"/><rect x="1137.0" y="869.0" width="264" height="86" fill="#fff" stroke="#000" stroke-width="4"/><text x="1269.0" y="798.0" font-family='"Liberation Sans", sans-serif' font-size="18.7" font-weight="bold" fill="#363636" textLength="148.5" lengthAdjust="spacingAndGlyphs" text-anchor="middle" >Create Image Here</text><text x="1269.0" y="919.0" font-family='"Liberation Sans", sans-serif' font-size="18.7" font-weight="bold" fill="#24262b" textLength="181" lengthAdjust="spacingAndGlyphs" text-anchor="middle" >Enter Description Here</text><rect x="628.1" y="481.1" width="152.8" height="31.8" rx="7" ry="7" fill="#fff" stroke="#000" stroke-width="2.2"/><text x="640.0" y="503.9" font-family='"Liberation Sans", sans-serif' font-size="22.2" font-weight="bold" fill="#24262b" textLength="128.1" lengthAdjust="spacingAndGlyphs" text-anchor="start" >Rising Action</text><rect x="1212.1" y="241.1" width="150.8" height="31.8" rx="7" ry="7" fill="#fff" stroke="#000" stroke-width="2.2"/><text x="1254.1" y="263.9" font-family='"Liberation Sans", sans-serif' font-size="22.2" font-weight="bold" fill="#24262b" textLength="68" lengthAdjust="spacingAndGlyphs" text-anchor="start" >Climax</text><rect x="359.1" y="721.1" width="152.8" height="31.8" rx="7" ry="7" fill="#fff" stroke="#000" stroke-width="2.2"/><text x="397.2" y="746.6" font-family='"Liberation Sans", sans-serif' font-size="22.2" font-weight="bold" fill="#000" textLength="76.3" lengthAdjust="spacingAndGlyphs" text-anchor="start" >Conflict</text><rect x="74.1" y="944.1" width="153.8" height="31.8" rx="7" ry="7" fill="#fff" stroke="#000" stroke-width="2.2"/><text x="100.2" y="968.1" font-family='"Liberation Sans", sans-serif' font-size="22.2" font-weight="bold" fill="#000" textLength="101.5" lengthAdjust="spacingAndGlyphs" text-anchor="start" >Exposition</text><rect x="1145.1" y="667.1" width="151.8" height="31.8" rx="7" ry="7" fill="#fff" stroke="#000" stroke-width="2.2"/><text x="1154.4" y="690.6" font-family='"Liberation Sans", sans-serif' font-size="22.2" font-weight="bold" fill="#24262b" textLength="132.2" lengthAdjust="spacingAndGlyphs" text-anchor="start" >Falling Action</text><rect x="1199.1" y="962.1" width="152.8" height="32.8" rx="7" ry="7" fill="#fff" stroke="#000" stroke-width="2.2"/><text x="1223.3" y="985.9" font-family='"Liberation Sans", sans-serif' font-size="22.2" font-weight="bold" fill="#000" textLength="103.4" lengthAdjust="spacingAndGlyphs" text-anchor="start" >Resolution</text><rect x="80.9" y="38.9" width="695.2" height="50.2" rx="9" ry="9" fill="#fff" stroke="#000" stroke-width="1.8"/><text x="99.8" y="73" font-family='"Liberation Sans", sans-serif' font-size="23.3" font-weight="bold" fill="#24262b" textLength="59" lengthAdjust="spacingAndGlyphs" text-anchor="start" >Name</text><rect x="166" y="76.5" width="394" height="2" fill="#333"/><text x="596" y="74.7" font-family='"Liberation Sans", sans-serif' font-size="23.3" font-weight="bold" fill="#24262b" textLength="48" lengthAdjust="spacingAndGlyphs" text-anchor="start" >Date</text><rect x="653" y="76.8" width="106" height="2" fill="#333"/><rect x="834.9" y="37.9" width="505.2" height="42.2" rx="9" ry="9" fill="#fff" stroke="#000" stroke-width="1.8"/><text x="841" y="66.7" font-family='"Liberation Sans", sans-serif' font-size="23.3" font-weight="bold" fill="#24262b" textLength="103.7" lengthAdjust="spacingAndGlyphs" text-anchor="start" >Book Title:</text><rect x="948" y="70" width="370" height="2.2" fill="#2a2d33"/><rect x="57.9" y="143.9" width="369.2" height="195.2" rx="6" ry="6" fill="#fff" stroke="#000" stroke-width="1.8"/><text x="63.8" y="170" font-family='"Liberation Sans", sans-serif' font-size="22" font-weight="bold" fill="#24262b" textLength="100" lengthAdjust="spacingAndGlyphs" text-anchor="start" >Directions</text><rect x="65" y="172.8" width="98.8" height="2" fill="#24262b"/><text x="163.8" y="170" font-family='"Liberation Sans", sans-serif' font-size="22" font-weight="bold" fill="#24262b" textLength="163" lengthAdjust="spacingAndGlyphs" text-anchor="start" >: Enter Text Here</text><text x="27.4" y="1078.8" font-family='"Liberation Sans", sans-serif' font-size="11.5" font-weight="bold" fill="#000" textLength="132.5" lengthAdjust="spacingAndGlyphs" text-anchor="start" >www.storyboardthat.com</text><path d="M1231,1057.3 L1250,1057.3 Q1253,1057.3 1253,1060.3 L1253,1072 Q1253,1075 1250,1075 L1238,1075 L1232,1081 L1233,1075 L1231,1075 Q1228,1075 1228,1072 L1228,1060.3 Q1228,1057.3 1231,1057.3 Z" fill="#000"/><path d="M1242,1061.7 L1256,1061.7 Q1259,1061.7 1259,1064.7 L1259,1073.7 Q1259,1076.7 1256,1076.7 L1256,1077 L1255,1080.5 L1251,1076.7 L1242,1076.7 Q1239,1076.7 1239,1073.7 L1239,1064.7 Q1239,1061.7 1242,1061.7 Z" fill="#9a9a9a"/><text x="1263.3" y="1073.3" font-family='"Liberation Sans", sans-serif' font-size="16.5" font-weight="normal" fill="#000" textLength="92.7" lengthAdjust="spacingAndGlyphs" text-anchor="start" >Storyboard</text><text x="1356" y="1073.3" font-family='"Liberation Sans", sans-serif' font-size="16.5" font-weight="normal" fill="#9a9a9a" textLength="38.7" lengthAdjust="spacingAndGlyphs" text-anchor="start" >That</text></svg>
</body></html>
